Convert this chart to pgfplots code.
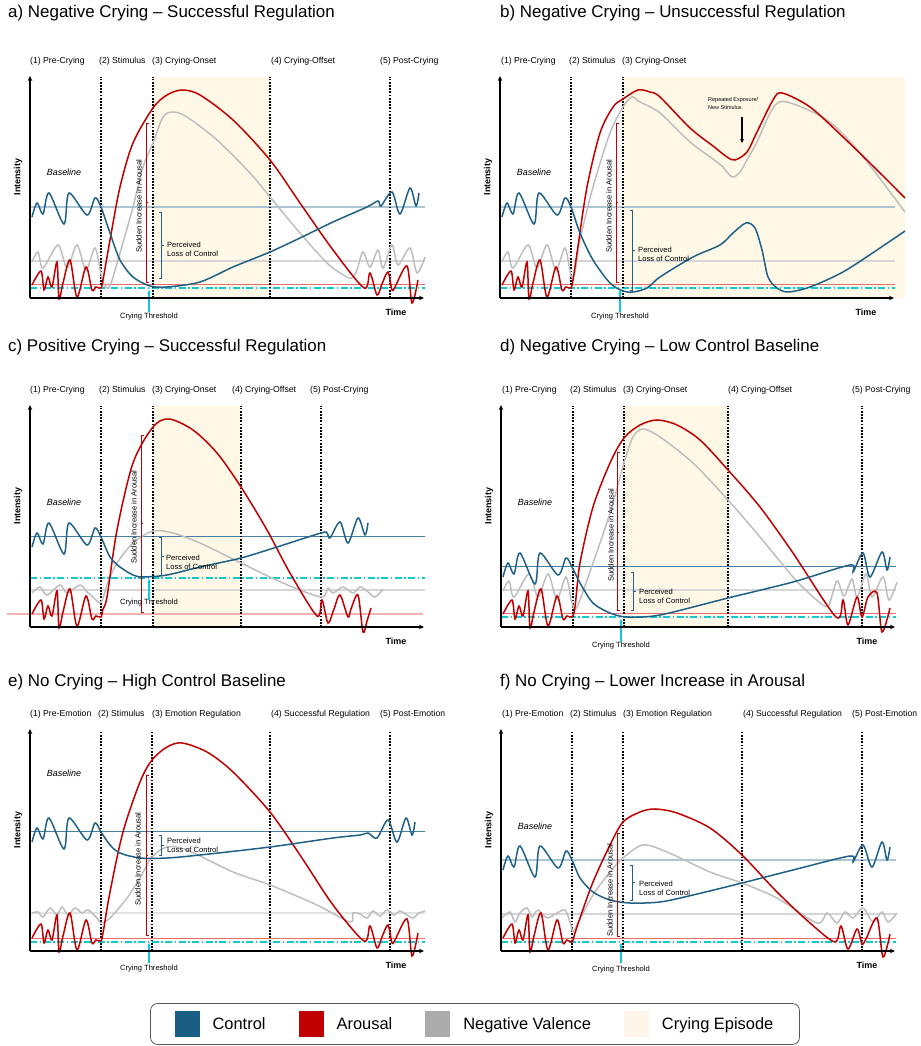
\documentclass[border=0pt]{standalone}
\usepackage{fontspec}
\setmainfont{Liberation Sans}
\usepackage{pgfplots}
\pgfplotsset{compat=1.18}
\usetikzlibrary{arrows.meta}

\definecolor{ctrl}{RGB}{31,97,134}
\definecolor{ctrlsq}{RGB}{25,94,130}
\definecolor{arous}{RGB}{192,0,0}
\definecolor{negv}{RGB}{190,190,190}
\definecolor{negvsq}{RGB}{171,171,171}
\definecolor{cry}{RGB}{255,248,230}
\definecolor{crysq}{RGB}{255,246,234}
\definecolor{cbL}{RGB}{172,198,214}
\definecolor{cbD}{RGB}{70,128,165}
\definecolor{gbase}{RGB}{214,214,214}
\definecolor{rbase}{RGB}{230,110,110}
\definecolor{rbaseL}{RGB}{243,178,178}
\definecolor{thr}{RGB}{20,200,210}

\newcommand\tfont{\fontsize{17}{20}\selectfont}
\newcommand\pfont{\fontsize{8.7}{10}\selectfont}
\newcommand\afont{\fontsize{7.6}{9.2}\selectfont}
\newcommand\lfont{\bfseries\fontsize{9}{10}\selectfont}

\pgfplotsset{
 panel/.style={scale only axis, width=393bp, height=220bp, xmin=0, xmax=393, ymin=0, ymax=220,
   hide axis, clip=false, anchor=south west},
 cline/.style={ctrl, line width=1.5bp, smooth, tension=0.5, forget plot},
 rline/.style={arous, line width=1.5bp, smooth, tension=0.5, forget plot},
 gline/.style={negv, line width=1.5bp, smooth, tension=0.5, forget plot},
 thrline/.style={thr, line width=1.1bp, dash pattern=on 7bp off 2.5bp on 1.5bp off 2.5bp, forget plot},
}

\newcommand\axarrows{%
 \draw[line width=1.5bp, -{Stealth[length=5bp,width=4.5bp]}] (axis cs:0,0) -- (axis cs:0,222);
 \draw[line width=1.5bp, -{Stealth[length=5bp,width=4.5bp]}] (axis cs:0,0) -- (axis cs:394,0);}
\newcommand\panelbase[1]{%
 \node[rotate=90, font=\lfont] at (axis cs:-12,121) {Intensity};
 \node[font=\lfont] at (axis cs:366,-14) {Time};
 \node[font=\itshape\fontsize{9}{10}\selectfont] at (axis cs:34,#1) {Baseline};}
\newcommand\phase[2]{\node[anchor=west, inner sep=0pt, font=\pfont] at (axis cs:#1,237) {#2};}
\newcommand\dotl[2]{\addplot[black, line width=1.7bp, dash pattern=on 1.7bp off 1.5bp, forget plot] coordinates {(#1,0)(#1,#2)};}
\newcommand\redbr[4]{%
 \draw[arous, line width=0.6bp] ([xshift=2.5bp]axis cs:#1,#3) -- (axis cs:#1,#3) -- (axis cs:#1,#2) -- ([xshift=2.5bp]axis cs:#1,#2);
 \draw[arous, line width=0.6bp] (axis cs:#1,#4) -- ([xshift=2bp]axis cs:#1,#4);}
\newcommand\blubr[4]{%
 \draw[ctrl, line width=0.6bp] ([xshift=-2.5bp]axis cs:#1,#3) -- (axis cs:#1,#3) -- (axis cs:#1,#2) -- ([xshift=-2.5bp]axis cs:#1,#2);
 \draw[ctrl, line width=0.6bp] (axis cs:#1,#4) -- ([xshift=2.5bp]axis cs:#1,#4);}
\newcommand\sudden[2]{\node[rotate=90, font=\afont, inner sep=0pt] at (axis cs:#1,#2) {Sudden Increase in Arousal};}
\newcommand\perc[2]{\node[anchor=west, align=left, font=\afont, inner sep=0pt] at (axis cs:#1,#2) {Perceived\\Loss of Control};}
\newcommand\thresh[4]{%
 \node[font=\afont, inner sep=0pt] at (axis cs:#1,#4) {Crying Threshold};
 \draw[thr, line width=1.1bp, -{Stealth[length=3.5bp,width=3.5bp]}] (axis cs:#1,#2) -- (axis cs:#1,#3);}
\newcommand\ptitle[3]{\node[anchor=west, inner sep=0pt, font=\tfont] at (axis cs:#1,#2) {#3};}

\begin{document}
\begin{tikzpicture}
\useasboundingbox (0,0) rectangle (921bp,1046bp);

% ---------------- a ----------------
\begin{axis}[panel, at={(30bp,748bp)}]
\addplot[draw=none, fill=cry, forget plot] coordinates {(123,0)(123,221)(240,221)(240,0)} -- cycle;
\addplot[cbL, line width=1.1bp, forget plot] coordinates {(0,91)(395,91)};
\addplot[gbase, line width=1.1bp, forget plot] coordinates {(0,37)(395,37)};
\addplot[rbase, line width=0.7bp, forget plot] coordinates {(0,14)(395,14)};
\addplot[thrline] coordinates {(0,10)(395,10)};
\dotl{71}{221}\dotl{123}{221}\dotl{240}{221}\dotl{360}{221}
\addplot[gline] coordinates {(2,36)(8,46)(13,30)(28,53)(37,30)(47,53)(56,28)(65,50)(71,24)(75,12)(80,12)(90,45)(103,91)(113,131)(123,155)(133,181)(143,186)(157,181)(187,158)(220,125)(240,101)(270,65)(297,35)(315,22)(322,20)(327,28)(333,46)(340,31)(348,48)(353,30)(362,53)(368,33)(380,50)(387,25)(395,41)};
\addplot[rline] coordinates {(2,13)(11,27)(14,8)(18,21)(22,11)(27,36)(29,-1)(33,15)(40,38)(47,1)(56,31)(62,8)(66,11)(71,10)(73,18)(80,58)(90,111)(103,155)(123,190)(137,203)(152,208)(170,203)(203,178)(240,138)(270,95)(303,48)(334,10)(340,25)(347,3)(352,14)(358,26)(362,8)(365,11)(377,32)(382,-5)(388,18)};
\addplot[cline] coordinates {(2,81)(7,95)(13,84)(19,105)(34,74)(39,105)(57,83)(65,100)(71,91)(80,65)(90,38)(103,21)(120,12)(137,11)(170,16)(203,31)(240,46)(270,60)(303,76)(337,91)(348,97)(351,92)(362,106)(370,84)(380,110)(386,92)(389,105)};
\redbr{116}{16}{175}{96}\sudden{109}{92}
\blubr{131}{20}{86}{53}\perc{137}{48.5}
\thresh{119}{-14}{8}{-19}
\phase{0}{(1) Pre-Crying}\phase{69}{(2) Stimulus}\phase{122}{(3) Crying-Onset}\phase{241}{(4) Crying-Offset}\phase{350}{(5) Post-Crying}
\panelbase{126}
\axarrows
\ptitle{-22}{285}{a) Negative Crying – Successful Regulation}
\end{axis}

% ---------------- b ----------------
\begin{axis}[panel, at={(500bp,748bp)}]
\addplot[draw=none, fill=cry, forget plot] coordinates {(123,0)(123,221)(405,221)(405,0)} -- cycle;
\addplot[cbL, line width=1.1bp, forget plot] coordinates {(0,91)(395,91)};
\addplot[gbase, line width=1.1bp, forget plot] coordinates {(0,37)(395,37)};
\addplot[rbase, line width=0.7bp, forget plot] coordinates {(0,14)(395,14)};
\addplot[thrline] coordinates {(0,10)(395,10)};
\dotl{71}{221}\dotl{123}{221}
\addplot[gline] coordinates {(2,36)(8,46)(13,30)(28,53)(37,30)(47,53)(56,28)(65,50)(71,22)(75,26)(80,58)(93,111)(110,165)(123,191)(132,201)(140,196)(160,185)(190,156)(213,139)(222,132)(232,121)(240,126)(248,140)(257,156)(273,190)(287,196)(327,178)(360,145)(405,86)};
\addplot[rline] coordinates {(2,13)(11,27)(14,8)(18,21)(22,11)(27,36)(29,-1)(33,15)(40,38)(47,1)(56,31)(62,8)(66,11)(71,10)(73,18)(77,45)(87,111)(100,165)(113,191)(123,199)(138,208)(150,206)(160,201)(190,170)(213,152)(227,141)(235,138)(247,146)(257,166)(273,198)(282,205)(310,191)(343,161)(377,128)(405,100)};
\addplot[cline] coordinates {(2,81)(7,95)(13,84)(19,105)(34,74)(39,105)(57,83)(65,100)(71,91)(80,65)(93,38)(110,15)(123,7)(133,6)(147,10)(160,21)(193,41)(220,53)(233,65)(246,75)(255,70)(262,48)(268,21)(277,10)(288,6)(310,11)(343,26)(377,48)(405,67)};
\redbr{116}{16}{175}{96}\sudden{109}{92}
\blubr{132}{8}{88}{48}\perc{138}{43.5}
\thresh{120}{-14}{8}{-19}
\node[anchor=west, align=left, inner sep=0pt, font=\fontsize{5.5}{8}\selectfont] at (axis cs:208,194) {Repeated Exposure/\\New Stimulus};
\draw[line width=1.3bp, -{Stealth[length=4bp,width=4bp]}] (axis cs:242,181) -- (axis cs:242,155);
\phase{1}{(1) Pre-Crying}\phase{69}{(2) Stimulus}\phase{122}{(3) Crying-Onset}
\panelbase{126}
\axarrows
\ptitle{0}{285}{b) Negative Crying – Unsuccessful Regulation}
\end{axis}

% ---------------- c ----------------
\begin{axis}[panel, at={(30bp,419bp)}]
\addplot[draw=none, fill=cry, forget plot] coordinates {(123,0)(123,221)(211,221)(211,0)} -- cycle;
\addplot[cbD, line width=1bp, forget plot] coordinates {(0,90)(395,90)};
\addplot[gbase, line width=1.1bp, forget plot] coordinates {(0,37)(395,37)};
\addplot[rbaseL, line width=1.4bp, forget plot] coordinates {(-23,13)(393,13)};
\addplot[thrline, line width=1.6bp] coordinates {(0,49)(395,49)};
\dotl{71}{221}\dotl{123}{221}\dotl{211}{221}\dotl{291}{221}
\addplot[gline] coordinates {(2,34)(10,40)(17,32)(30,42)(37,34)(50,42)(57,35)(63,30)(68,25)(72,26)(78,45)(87,64)(103,84)(123,96)(143,94)(170,84)(211,64)(253,44)(291,30)(298,39)(303,34)(313,40)(323,34)(330,40)(337,36)(345,30)(353,38)};
\addplot[rline] coordinates {(2,13)(11,27)(14,8)(18,21)(22,11)(27,36)(29,-1)(33,15)(40,38)(47,1)(56,31)(62,8)(66,11)(71,10)(73,18)(77,30)(87,97)(103,164)(123,200)(139,208)(163,197)(187,174)(211,140)(237,97)(260,54)(287,11)(292,27)(298,4)(304,18)(310,32)(318,10)(321,18)(328,32)(333,-5)(337,6)(341,19)};
\addplot[cline] coordinates {(2,80)(7,94)(13,83)(19,104)(34,73)(39,104)(57,82)(65,99)(71,90)(80,70)(90,60)(103,52)(113,50)(137,52)(170,60)(211,69)(247,80)(291,94)(297,94)(300,89)(310,105)(318,84)(328,109)(335,92)(338,104)};
\redbr{111}{15}{192}{104}\sudden{104}{110}
\blubr{131}{52}{90}{71}\perc{136}{64.5}
\thresh{119}{27}{48}{24}
\phase{0}{(1) Pre-Crying}\phase{69}{(2) Stimulus}\phase{122}{(3) Crying-Onset}\phase{202}{(4) Crying-Offset}\phase{280}{(5) Post-Crying}
\panelbase{125}
\axarrows
\ptitle{-22}{280}{c) Positive Crying – Successful Regulation}
\end{axis}

% ---------------- d ----------------
\begin{axis}[panel, at={(501bp,419bp)}]
\addplot[draw=none, fill=cry, forget plot] coordinates {(123,0)(123,221)(227,221)(227,0)} -- cycle;
\addplot[cbD, line width=1bp, forget plot] coordinates {(0,60)(395,60)};
\addplot[gbase, line width=1.1bp, forget plot] coordinates {(0,37)(395,37)};
\addplot[rbase, line width=0.7bp, forget plot] coordinates {(0,14)(395,14)};
\addplot[thrline] coordinates {(0,10)(395,10)};
\dotl{72}{221}\dotl{123}{221}\dotl{227}{221}\dotl{361}{221}
\addplot[gline] coordinates {(2,36)(8,46)(13,30)(28,53)(37,30)(47,53)(56,28)(65,50)(71,24)(76,20)(92,64)(109,114)(123,164)(132,190)(142,198)(159,190)(192,164)(227,127)(259,90)(292,50)(310,32)(322,22)(328,22)(336,46)(343,31)(351,48)(356,30)(365,53)(371,30)(382,50)(388,27)(396,45)};
\addplot[rline] coordinates {(2,13)(11,27)(14,8)(18,21)(22,11)(27,36)(29,-1)(33,15)(40,38)(47,1)(56,31)(62,8)(66,11)(71,10)(74,20)(79,64)(92,120)(109,164)(123,189)(139,202)(156,207)(176,202)(199,187)(227,157)(259,120)(292,74)(335,10)(342,27)(347,2)(356,30)(361,10)(367,30)(376,34)(381,-5)(389,19)};
\addplot[cline] coordinates {(2,50)(7,64)(13,53)(19,74)(34,43)(39,74)(57,52)(65,69)(71,60)(79,44)(92,24)(109,14)(126,10)(159,12)(227,29)(292,45)(349,62)(352,55)(362,74)(369,50)(381,75)(386,57)(389,70)};
\redbr{116}{17}{175}{95}\sudden{110}{92}
\blubr{132}{17}{55}{36}\perc{138}{31}
\thresh{120}{-15}{8}{-19}
\phase{1}{(1) Pre-Crying}\phase{69}{(2) Stimulus}\phase{122}{(3) Crying-Onset}\phase{227}{(4) Crying-Offset}\phase{351}{(5) Post-Crying}
\panelbase{125}
\axarrows
\ptitle{-1}{280}{d) Negative Crying – Low Control Baseline}
\end{axis}

% ---------------- e ----------------
\begin{axis}[panel, at={(30bp,95bp)}]
\addplot[cbD, line width=1bp, forget plot] coordinates {(0,119)(395,119)};
\addplot[gbase!70, line width=1.6bp, forget plot] coordinates {(0,38)(395,38)};
\addplot[rbase, line width=0.7bp, forget plot] coordinates {(0,13)(395,13)};
\addplot[thrline] coordinates {(0,9)(395,9)};
\dotl{71}{219}\dotl{122}{219}\dotl{240}{219}\dotl{360}{219}
\addplot[gline] coordinates {(2,38)(8,39)(13,34)(20,43)(27,36)(32,44)(38,36)(45,43)(52,38)(58,41)(67,33)(71,28)(80,33)(97,53)(110,73)(122,94)(137,104)(157,101)(203,79)(240,66)(287,46)(320,29)(323,38)(330,37)(337,33)(343,40)(350,35)(357,41)(364,36)(370,40)(377,36)(383,33)(389,38)(395,40)};
\addplot[rline] coordinates {(2,13)(11,27)(14,8)(18,21)(22,11)(27,36)(29,-1)(33,15)(40,38)(47,1)(56,31)(62,8)(66,11)(71,10)(73,18)(80,59)(93,119)(110,169)(122,191)(137,204)(152,208)(177,199)(203,179)(240,139)(270,96)(303,46)(334,10)(340,25)(347,3)(352,14)(358,26)(362,8)(365,11)(377,32)(382,-5)(388,18)};
\addplot[cline] coordinates {(2,109)(7,123)(13,112)(19,133)(34,102)(39,133)(57,111)(65,128)(71,119)(80,106)(90,98)(110,93)(137,93)(170,96)(240,104)(303,113)(330,116)(338,118)(347,113)(358,131)(367,109)(376,133)(382,116)(385,129)};
\redbr{116}{16}{176}{96}\sudden{108}{92}
\blubr{131}{96}{116}{106}\perc{137}{105.5}
\thresh{119}{-12}{8}{-18}
\phase{0}{(1) Pre-Emotion}\phase{68}{(2) Stimulus}\phase{122}{(3) Emotion Regulation}\phase{241}{(4) Successful Regulation}\phase{350}{(5) Post-Emotion}
\panelbase{178}
\axarrows
\ptitle{-22}{269}{e) No Crying – High Control Baseline}
\end{axis}

% ---------------- f ----------------
\begin{axis}[panel, at={(501bp,95bp)},
  legend columns=4,
  legend style={at={(axis cs:-26,-73)}, anchor=center, draw=black!65, line width=0.8bp,
    rounded corners=7bp, font=\fontsize{16.5}{19}\selectfont, inner xsep=24bp, inner ysep=8bp,
    nodes={inner sep=2bp},
    /tikz/every even column/.append style={column sep=31bp},
    /tikz/every odd column/.append style={column sep=11bp}},
  legend image code/.code={\fill[#1, sharp corners] (0bp,-12.5bp) rectangle (25bp,12.5bp);}]
\addplot[cbL, line width=1.1bp, forget plot] coordinates {(0,91)(395,91)};
\addplot[gbase, line width=1.1bp, forget plot] coordinates {(0,37)(395,37)};
\addplot[rbase, line width=0.7bp, forget plot] coordinates {(0,13)(395,13)};
\addplot[thrline] coordinates {(0,9)(395,9)};
\dotl{71}{219}\dotl{122}{219}\dotl{241}{219}\dotl{361}{219}
\addplot[gline] coordinates {(1,33)(9,39)(14,29)(19,38)(26,43)(31,34)(37,41)(46,33)(56,38)(64,41)(69,29)(72,19)(76,26)(92,56)(109,79)(122,93)(142,106)(166,99)(209,79)(241,68)(276,53)(316,28)(326,38)(336,28)(344,39)(352,33)(362,43)(372,29)(381,39)(387,29)(396,38)};
\addplot[rline] coordinates {(2,13)(11,27)(14,8)(18,21)(22,11)(27,36)(29,-1)(33,15)(40,38)(47,1)(56,31)(62,8)(66,11)(71,9)(74,18)(79,33)(92,69)(109,106)(122,129)(139,139)(154,142)(176,138)(209,123)(241,96)(276,59)(309,28)(334,9)(340,25)(347,2)(356,22)(361,7)(365,12)(376,33)(382,-6)(389,17)};
\addplot[cline] coordinates {(2,81)(7,95)(13,84)(19,105)(34,74)(39,105)(57,83)(65,100)(71,91)(79,73)(92,59)(109,51)(129,48)(159,49)(192,56)(241,68)(292,81)(349,95)(352,89)(362,106)(371,84)(381,109)(386,91)(389,104)};
\redbr{116}{15}{118}{68}\sudden{109}{61}
\blubr{131}{51}{86}{69}\perc{138}{62.5}
\thresh{120}{-12}{8}{-19}
\phase{1}{(1) Pre-Emotion}\phase{69}{(2) Stimulus}\phase{122}{(3) Emotion Regulation}\phase{242}{(4) Successful Regulation}\phase{351}{(5) Post-Emotion}
\panelbase{125}
\axarrows
\ptitle{-1}{269}{f) No Crying – Lower Increase in Arousal}
\addlegendimage{fill=ctrlsq, draw=none}\addlegendentry{Control}
\addlegendimage{fill=arous, draw=none}\addlegendentry{Arousal}
\addlegendimage{fill=negvsq, draw=none}\addlegendentry{Negative Valence}
\addlegendimage{fill=crysq, draw=none}\addlegendentry{Crying Episode}
\end{axis}
\end{tikzpicture}
\end{document}
